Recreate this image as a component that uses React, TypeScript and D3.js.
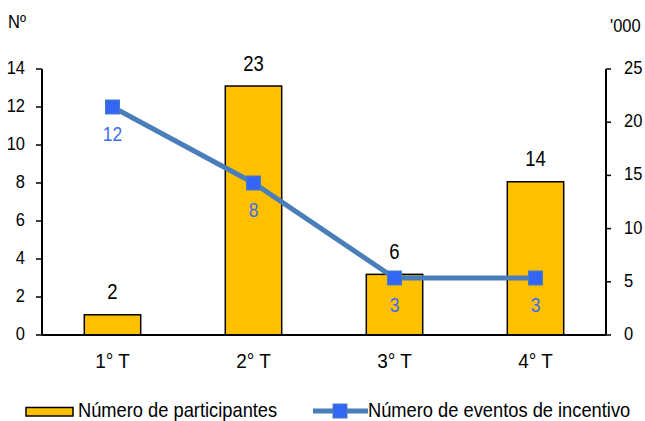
import React from "react";
import * as d3 from "d3";

const categories = ["1° T", "2° T", "3° T", "4° T"];
const participants = [1.9, 23.4, 5.7, 14.4]; // '000, right axis
const events = [12, 8, 3, 3]; // Nº, left axis
const leftTicks = [0, 2, 4, 6, 8, 10, 12, 14];
const rightTicks = [0, 5, 10, 15, 20, 25];
const barLegend = "Número de participantes";
const lineLegend = "Número de eventos de incentivo";

const W = 645, H = 421;
const m = { left: 42, right: 606, top: 69, bottom: 335 };
const FONT = "'Liberation Sans', Arial, sans-serif";

type TProps = { x: number; y: number; size: number; sy?: number; anchor?: string; fill?: string; children: React.ReactNode };
function T({ x, y, size, sy = 1.12, anchor = "start", fill = "#000", children }: TProps) {
  return (
    <text transform={`translate(${x},${y}) scale(1,${sy})`} fontSize={size} textAnchor={anchor} fill={fill}>
      {children}
    </text>
  );
}

export default function App() {
  const x = d3.scaleBand<string>().domain(categories).range([m.left, m.right]).padding(0);
  const yL = d3.scaleLinear().domain([0, 14]).range([m.bottom, m.top]);
  const yR = d3.scaleLinear().domain([0, 25]).range([m.bottom, m.top]);
  const bw = x.bandwidth() * 0.4;
  const cx = (c: string) => (x(c) as number) + x.bandwidth() / 2;
  const line = d3.line<number>().x((_, i) => cx(categories[i])).y((d) => yL(d));
  const fmt = d3.format(".0f");
  const blue = "#4A7EBB";
  const marker = "#3366F5";
  const labelBlue = "#3D6CF0";
  return (
    <svg width={W} height={H} style={{ position: "absolute", left: 0, top: 0 }} fontFamily={FONT}>
      <rect width={W} height={H} fill="white" />
      <T x={8} y={28} size={16.5}>Nº</T>
      <T x={610} y={32} size={16.5}>'000</T>
      {categories.map((c, i) => (
        <g key={c}>
          <rect x={cx(c) - bw / 2} y={yR(participants[i])} width={bw} height={m.bottom - yR(participants[i])}
            fill="#FFC000" stroke="#000" strokeWidth={1.5} />
          <T x={cx(c)} y={yR(participants[i]) - 15.5} anchor="middle" size={18.5} sy={1.2}>{fmt(participants[i])}</T>
          <T x={cx(c)} y={368} anchor="middle" size={19} sy={1.1}>{c}</T>
        </g>
      ))}
      {/* axes */}
      <line x1={m.left} x2={m.left} y1={m.top} y2={m.bottom} stroke="#000" strokeWidth={2} />
      <line x1={m.right} x2={m.right} y1={m.top} y2={m.bottom} stroke="#000" strokeWidth={2} />
      <line x1={m.left} x2={m.right} y1={m.bottom} y2={m.bottom} stroke="#000" strokeWidth={2} />
      {leftTicks.map((t) => (
        <g key={"l" + t}>
          <line x1={m.left - 6} x2={m.left} y1={yL(t)} y2={yL(t)} stroke="#000" strokeWidth={1.5} />
          <T x={25} y={yL(t) + 5} anchor="end" size={16.5}>{t}</T>
        </g>
      ))}
      {rightTicks.map((t) => (
        <g key={"r" + t}>
          <line x1={m.right} x2={m.right + 5} y1={yR(t)} y2={yR(t)} stroke="#000" strokeWidth={1.5} />
          <T x={624} y={yR(t) + 5} size={16.5}>{t}</T>
        </g>
      ))}
      <path d={line(events) || ""} fill="none" stroke={blue} strokeWidth={5} />
      {events.map((v, i) => (
        <g key={"e" + i}>
          <rect x={cx(categories[i]) - 7} y={yL(v) - 7} width={14} height={14} fill={marker} stroke={blue} strokeWidth={1} />
          <T x={cx(categories[i])} y={yL(v) + 34} anchor="middle" size={17.5} fill={labelBlue}>{v}</T>
        </g>
      ))}
      {/* legend */}
      <rect x={26} y={407.5} width={47} height={8.5} fill="#FFC000" stroke="#000" strokeWidth={1.5} />
      <T x={78} y={417} size={18.3} sy={1.1}>{barLegend}</T>
      <line x1={313} x2={368} y1={411} y2={411} stroke={blue} strokeWidth={5} />
      <rect x={333} y={404} width={14} height={14} fill={marker} stroke={blue} strokeWidth={1} />
      <T x={368} y={417} size={18.3} sy={1.1}>{lineLegend}</T>
    </svg>
  );
}
